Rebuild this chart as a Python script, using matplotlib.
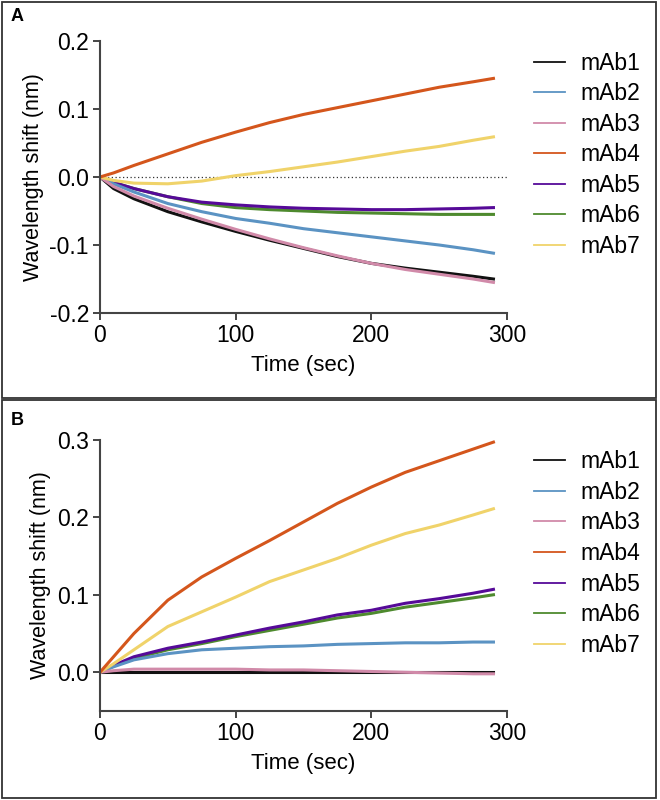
import numpy as np
import matplotlib
matplotlib.use("Agg")
from matplotlib import pyplot as plt
from matplotlib.patches import Rectangle
from matplotlib.ticker import FormatStrFormatter

plt.rcParams['font.family'] = ['Liberation Sans', 'DejaVu Sans']

t_a = [0, 10, 25, 50, 75, 100, 125, 150, 175, 200, 225, 250, 275, 290]
t_b = [0, 10, 25, 50, 75, 100, 125, 150, 175, 200, 225, 250, 275, 290]

names = ["mAb1", "mAb2", "mAb3", "mAb4", "mAb5", "mAb6", "mAb7"]
colors = ["#111111", "#5b93c3", "#d18aa9", "#d4561c", "#560a98", "#4e8a2e", "#f0d36a"]

# panel A
a_mab1 = [0, -0.017, -0.032, -0.051, -0.066, -0.080, -0.093, -0.105, -0.117, -0.127, -0.134, -0.140, -0.146, -0.150]
a_mab2 = [0, -0.010, -0.022, -0.039, -0.051, -0.061, -0.068, -0.076, -0.082, -0.088, -0.094, -0.100, -0.107, -0.112]
a_mab3 = [0, -0.014, -0.028, -0.046, -0.062, -0.077, -0.091, -0.104, -0.116, -0.127, -0.136, -0.143, -0.150, -0.155]
a_mab4 = [0, 0.006, 0.017, 0.034, 0.051, 0.066, 0.080, 0.092, 0.102, 0.112, 0.122, 0.132, 0.140, 0.145]
a_mab5 = [0, -0.008, -0.017, -0.029, -0.037, -0.041, -0.044, -0.046, -0.047, -0.048, -0.048, -0.047, -0.046, -0.045]
a_mab6 = [0, -0.008, -0.017, -0.029, -0.039, -0.045, -0.048, -0.050, -0.052, -0.053, -0.054, -0.055, -0.055, -0.055]
a_mab7 = [0, -0.005, -0.009, -0.010, -0.006, 0.002, 0.008, 0.015, 0.022, 0.030, 0.038, 0.045, 0.054, 0.059]

# panel B
b_mab1 = [0, 0, 0, 0, 0, 0, 0, 0, 0, 0, 0, 0, 0, 0]
b_mab2 = [0, 0.007, 0.016, 0.024, 0.029, 0.031, 0.033, 0.034, 0.036, 0.037, 0.038, 0.038, 0.039, 0.039]
b_mab3 = [0, 0.002, 0.004, 0.004, 0.004, 0.004, 0.003, 0.003, 0.002, 0.001, 0.000, -0.001, -0.002, -0.002]
b_mab4 = [0, 0.020, 0.050, 0.093, 0.123, 0.147, 0.170, 0.194, 0.218, 0.239, 0.258, 0.273, 0.288, 0.297]
b_mab5 = [0, 0.009, 0.020, 0.031, 0.039, 0.048, 0.057, 0.065, 0.074, 0.080, 0.089, 0.095, 0.102, 0.107]
b_mab6 = [0, 0.008, 0.018, 0.029, 0.037, 0.046, 0.054, 0.062, 0.070, 0.076, 0.084, 0.090, 0.096, 0.100]
b_mab7 = [0, 0.011, 0.029, 0.059, 0.078, 0.097, 0.117, 0.132, 0.147, 0.164, 0.179, 0.190, 0.203, 0.211]

series_a = [a_mab1, a_mab2, a_mab3, a_mab4, a_mab5, a_mab6, a_mab7]
series_b = [b_mab1, b_mab2, b_mab3, b_mab4, b_mab5, b_mab6, b_mab7]

# draw order: black first, so pink sits on top of it
order = [0, 5, 4, 1, 2, 6, 3]

fig = plt.figure(figsize=(6.6, 8), dpi=100)

# panel frames
fig.add_artist(Rectangle((0.003, 0.502), 0.991, 0.495, transform=fig.transFigure,
                         fill=False, edgecolor="#333333", linewidth=1.3))
fig.add_artist(Rectangle((0.003, 0.003), 0.991, 0.497, transform=fig.transFigure,
                         fill=False, edgecolor="#333333", linewidth=1.3))
fig.text(0.016, 0.979, "A", fontsize=13, fontweight="bold", va="center")
fig.text(0.016, 0.474, "B", fontsize=13, fontweight="bold", va="center")


def style_axes(ax):
    for s in ["top", "right"]:
        ax.spines[s].set_visible(False)
    for s in ["left", "bottom"]:
        ax.spines[s].set_color("#444444")
        ax.spines[s].set_linewidth(1.5)
    ax.tick_params(direction="out", length=5, width=1.4, color="#444444",
                   labelsize=16.5, pad=3)
    ax.set_xlim(0, 300)
    ax.set_xticks([0, 100, 200, 300])
    ax.yaxis.set_major_formatter(FormatStrFormatter("%.1f"))
    ax.set_xlabel("Time (sec)", fontsize=16, labelpad=6)
    ax.set_ylabel("Wavelength shift (nm)", fontsize=15.5, labelpad=4)

    # legend in mAb1..mAb7 order
    hs, ls = ax.get_legend_handles_labels()
    idx = [ls.index(n) for n in names]
    leg = ax.legend([hs[k] for k in idx], names, loc="upper left",
                    bbox_to_anchor=(1.045, 0.995), frameon=False,
                    fontsize=16.5, handlelength=1.35, handletextpad=0.65,
                    labelspacing=0.33, borderaxespad=0)
    for ln in leg.get_lines():
        ln.set_linewidth(1.3)


ax1 = fig.add_axes([0.1515, 0.60875, 0.6167, 0.34])
ax1.axhline(0, color="#333333", linestyle=(0, (1, 2)), linewidth=0.9, zorder=1)
for i in order:
    ax1.plot(t_a, series_a[i], color=colors[i], linewidth=2.2, label=names[i], zorder=2)
ax1.set_ylim(-0.2, 0.2)
ax1.set_yticks([-0.2, -0.1, 0.0, 0.1, 0.2])

ax2 = fig.add_axes([0.1515, 0.11125, 0.6167, 0.339])
for i in order:
    ax2.plot(t_b, series_b[i], color=colors[i], linewidth=2.2, label=names[i], zorder=2)
ax2.set_ylim(-0.05, 0.3)
ax2.set_yticks([0.0, 0.1, 0.2, 0.3])

for ax in [ax1, ax2]:
    style_axes(ax)

fig.savefig("out.png", dpi=100)
